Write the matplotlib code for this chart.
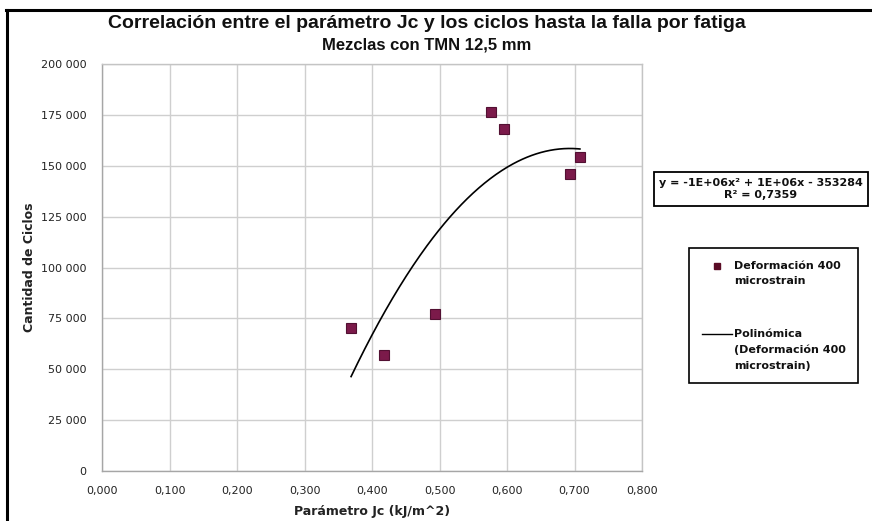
import numpy as np
import matplotlib
matplotlib.use("Agg")
import matplotlib.pyplot as plt
from matplotlib import font_manager
from matplotlib.lines import Line2D
from matplotlib.transforms import Affine2D
from matplotlib.legend_handler import HandlerLine2D
from matplotlib.ticker import FuncFormatter, MultipleLocator

# Fatigue test results: fracture parameter Jc vs. cycles to failure
jc_kj_m2 = [0.369, 0.418, 0.493, 0.576, 0.596, 0.693, 0.708]
ciclos = [70100, 57000, 77000, 176500, 168000, 145800, 154500]

serie_label = "Deformación 400\nmicrostrain"
tendencia_label = "Polinómica\n(Deformación 400\nmicrostrain)"
ecuacion = "y = -1E+06x² + 1E+06x - 353284\nR² = 0,7359"
titulo = "Correlación entre el parámetro Jc y los ciclos hasta la falla por fatiga"
subtitulo = "Mezclas con TMN 12,5 mm"
x_label = "Parámetro Jc (kJ/m^2)"
y_label = "Cantidad de Ciclos"


def pick_font(candidates):
    for name in candidates:
        try:
            font_manager.findfont(font_manager.FontProperties(family=name),
                                  fallback_to_default=False)
            return name
        except Exception:
            continue
    return "DejaVu Sans"


class FirstLineHandler(HandlerLine2D):
    """Places the legend key next to the first line of a multi-line label."""

    def __init__(self, nlines, step_pt, **kw):
        super().__init__(**kw)
        self.shift = (nlines - 1) / 2 * step_pt

    def create_artists(self, legend, orig_handle, xdescent, ydescent, width,
                       height, fontsize, trans):
        trans = Affine2D().translate(0, self.shift) + trans
        return super().create_artists(legend, orig_handle, xdescent, ydescent,
                                      width, height, fontsize, trans)


narrow = pick_font(["Liberation Sans Narrow", "DejaVu Sans Condensed", "Liberation Sans"])
plt.rcParams["font.family"] = ["DejaVu Sans"]

W, H = 872, 521
fig = plt.figure(figsize=(W / 100, H / 100), dpi=100)
fig.patch.set_facecolor("white")

# plot area in pixel terms
x0, x1, y0, y1 = 102, 642, 64, 471
ax = fig.add_axes([x0 / W, 1 - y1 / H, (x1 - x0) / W, (y1 - y0) / H])

ax.set_xlim(0, 0.8)
ax.set_ylim(0, 200000)
ax.xaxis.set_major_locator(MultipleLocator(0.1))
ax.yaxis.set_major_locator(MultipleLocator(25000))
ax.xaxis.set_major_formatter(FuncFormatter(lambda v, p: f"{v:.3f}".replace(".", ",")))
ax.yaxis.set_major_formatter(FuncFormatter(lambda v, p: f"{int(round(v)):,}".replace(",", " ")))
ax.grid(True, color="#cfcfcf", linewidth=1.0)
ax.set_axisbelow(True)
for s in ax.spines.values():
    s.set_color("#c4c4c4")
    s.set_linewidth(1.0)
ax.spines["bottom"].set_color("#a6a6a6")
ax.spines["left"].set_color("#a6a6a6")
ax.tick_params(length=0, labelsize=8, colors="#222222")
ax.tick_params(axis="y", pad=11)
ax.tick_params(axis="x", pad=11)

# polynomial trend line (order 2) fitted to the data
coef = np.polyfit(jc_kj_m2, ciclos, 2)
xs = np.linspace(min(jc_kj_m2), max(jc_kj_m2), 200)
ax.plot(xs, np.polyval(coef, xs), color="black", linewidth=1.2, zorder=2)

ax.plot(jc_kj_m2, ciclos, linestyle="none", marker="s", markersize=7.5,
        markerfacecolor="#7b1a4a", markeredgecolor="#521032", markeredgewidth=0.8,
        zorder=3)

ax.set_xlabel(x_label, fontsize=9, fontweight="bold", color="#222222", labelpad=6)
ax.set_ylabel(y_label, fontsize=9, fontweight="bold", color="#222222", labelpad=4)

# titles
fig.text(427 / W, 1 - 24 / H, titulo, ha="center", va="center",
         fontsize=14, fontweight="bold", family=[narrow, "DejaVu Sans"], color="#111111")
fig.text(427 / W, 1 - 45 / H, subtitulo, ha="center", va="center",
         fontsize=12, fontweight="bold", family=[narrow, "DejaVu Sans"], color="#111111")

# trend line equation box
fig.text(761 / W, 1 - 189 / H, ecuacion, ha="center", va="center",
         fontsize=8, fontweight="bold", color="#111111", linespacing=1.35,
         bbox=dict(boxstyle="square,pad=0.5", facecolor="white",
                   edgecolor="black", linewidth=1.3))

# legend
h_serie = Line2D([], [], linestyle="none", marker="s", markersize=4,
                 markerfacecolor="#5a0c25", markeredgecolor="#5a0c25")
h_tend = Line2D([], [], color="black", linewidth=1.0)
line_step_pt = 16 * 72 / 100
leg = ax.legend([h_serie, h_tend], [serie_label, tendencia_label], loc="upper left",
                bbox_to_anchor=(689 / W, 1 - 382 / H, 169 / W, 134 / H),
                bbox_transform=fig.transFigure, mode="expand",
                borderaxespad=0, frameon=True, fancybox=False, edgecolor="black",
                framealpha=1, prop=dict(size=8, weight="bold"),
                handlelength=2.7, handletextpad=0.2, labelspacing=3.8,
                borderpad=1.15,
                handler_map={
                    h_serie: FirstLineHandler(serie_label.count("\n") + 1, line_step_pt),
                    h_tend: FirstLineHandler(tendencia_label.count("\n") + 1, line_step_pt),
                })
leg.get_frame().set_linewidth(1.2)
for t in leg.get_texts():
    t.set_linespacing(1.7)
    t.set_color("#111111")

# chart outer border (left and top edges)
fig.add_artist(Line2D([7 / W, 7 / W], [0, 1 - 10 / H], color="black", linewidth=2.2,
                      transform=fig.transFigure))
fig.add_artist(Line2D([6 / W, 1], [1 - 10 / H, 1 - 10 / H], color="black", linewidth=2.2,
                      transform=fig.transFigure))

fig.savefig("out.png", dpi=100, facecolor="white")
